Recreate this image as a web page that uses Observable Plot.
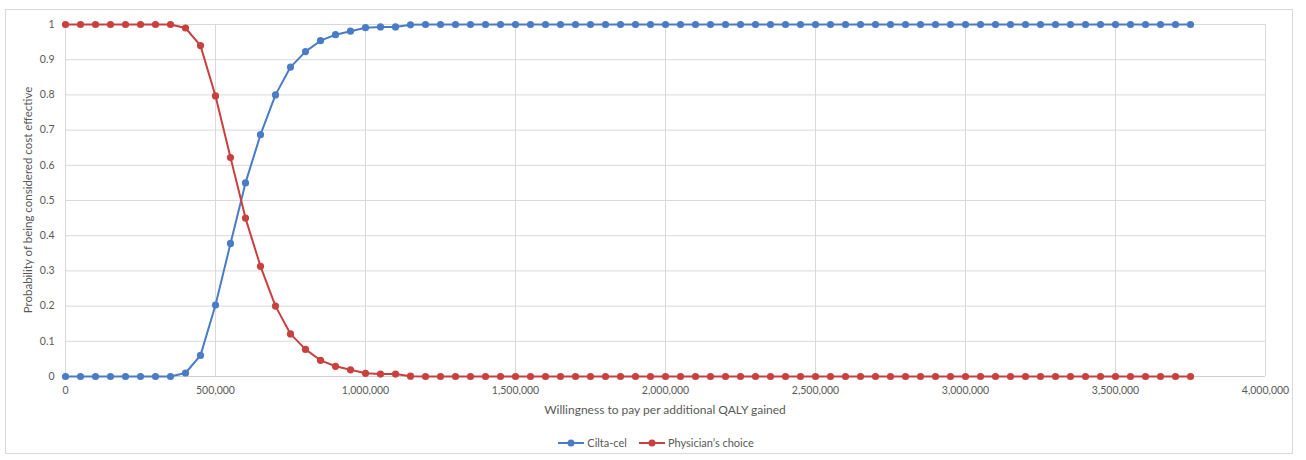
<!DOCTYPE html>
<html>
<head>
<meta charset="utf-8">
<script src="https://cdn.jsdelivr.net/npm/d3@7"></script>
<script src="https://cdn.jsdelivr.net/npm/@observablehq/plot@0.6"></script>
<style>
  html, body { margin: 0; padding: 0; background: #fff; }
  body { width: 1306px; height: 460px; position: relative; overflow: hidden; font-family: Lato, "Open Sans", sans-serif; }
  #frame { position: absolute; left: 5px; top: 9px; width: 1288px; height: 445px; border: 1px solid #d9d9d9; box-sizing: border-box; }
  #chart { position: absolute; left: 0; top: 0; }
  #xtitle { position: absolute; left: 65px; width: 1200px; top: 402px; text-align: center; font-size: 12px; color: #595959; }
  #ytitle { position: absolute; left: 27px; top: 200px; transform: translate(-50%, -50%) rotate(-90deg); white-space: nowrap; font-size: 11.5px; color: #595959; }
  #legend { position: absolute; left: 0; width: 1312px; top: 436px; text-align: center; font-size: 11px; color: #595959; }
  #legend span.item { display: inline-flex; align-items: center; margin: 0 6px; }
  #legend svg { margin-right: 3px; }
</style>
</head>
<body>
<div id="frame"></div>
<div id="chart"></div>
<div id="ytitle">Probability of being considered cost effective</div>
<div id="xtitle">Willingness to pay per additional QALY gained</div>
<div id="legend"></div>
<script>
const wtp = [
  0, 50000, 100000, 150000, 200000, 250000, 300000, 350000, 400000, 450000,
  500000, 550000, 600000, 650000, 700000, 750000, 800000, 850000, 900000, 950000,
  1000000, 1050000, 1100000, 1150000, 1200000, 1250000, 1300000, 1350000, 1400000, 1450000,
  1500000, 1550000, 1600000, 1650000, 1700000, 1750000, 1800000, 1850000, 1900000, 1950000,
  2000000, 2050000, 2100000, 2150000, 2200000, 2250000, 2300000, 2350000, 2400000, 2450000,
  2500000, 2550000, 2600000, 2650000, 2700000, 2750000, 2800000, 2850000, 2900000, 2950000,
  3000000, 3050000, 3100000, 3150000, 3200000, 3250000, 3300000, 3350000, 3400000, 3450000,
  3500000, 3550000, 3600000, 3650000, 3700000, 3750000
];
const ciltaCel = [
  0, 0, 0, 0, 0, 0, 0, 0, 0.01, 0.06,
  0.203, 0.378, 0.55, 0.687, 0.8, 0.879, 0.923, 0.954, 0.971, 0.981,
  0.991, 0.993, 0.993, 0.999, 1, 1, 1, 1, 1, 1,
  1, 1, 1, 1, 1, 1, 1, 1, 1, 1,
  1, 1, 1, 1, 1, 1, 1, 1, 1, 1,
  1, 1, 1, 1, 1, 1, 1, 1, 1, 1,
  1, 1, 1, 1, 1, 1, 1, 1, 1, 1,
  1, 1, 1, 1, 1, 1
];
const physiciansChoice = [
  1, 1, 1, 1, 1, 1, 1, 1, 0.99, 0.94,
  0.797, 0.622, 0.45, 0.313, 0.2, 0.121, 0.077, 0.046, 0.029, 0.019,
  0.009, 0.007, 0.007, 0.001, 0, 0, 0, 0, 0, 0,
  0, 0, 0, 0, 0, 0, 0, 0, 0, 0,
  0, 0, 0, 0, 0, 0, 0, 0, 0, 0,
  0, 0, 0, 0, 0, 0, 0, 0, 0, 0,
  0, 0, 0, 0, 0, 0, 0, 0, 0, 0,
  0, 0, 0, 0, 0, 0
];
const seriesNames = ["Cilta-cel", "Physician\u2019s choice"];
const seriesColors = ["#4a7cc6", "#c8413e"];
const xTicks = [0, 500000, 1000000, 1500000, 2000000, 2500000, 3000000, 3500000, 4000000];
const yTicks = [0, 0.1, 0.2, 0.3, 0.4, 0.5, 0.6, 0.7, 0.8, 0.9, 1];

const data = [];
wtp.forEach((w, i) => {
  data.push({x: w, y: ciltaCel[i], s: seriesNames[0]});
});
wtp.forEach((w, i) => {
  data.push({x: w, y: physiciansChoice[i], s: seriesNames[1]});
});

const fmt = d3.format(",");
const chart = Plot.plot({
  width: 1306,
  height: 400,
  marginLeft: 65,
  marginRight: 41,
  marginTop: 24,
  marginBottom: 24,
  style: { fontFamily: "Lato, 'Open Sans', sans-serif", fontSize: "10.5px", color: "#595959", background: "transparent" },
  x: { domain: [0, 4000000] },
  y: { domain: [0, 1] },
  color: { domain: seriesNames, range: seriesColors },
  marks: [
    Plot.gridX(xTicks, { stroke: "#d9d9d9", strokeOpacity: 1 }),
    Plot.gridY(yTicks, { stroke: "#d9d9d9", strokeOpacity: 1 }),
    Plot.ruleY([0], { stroke: "#d0d0d0" }),
    Plot.axisX(xTicks, { tickSize: 0, tickPadding: 10, tickFormat: d => fmt(d), label: null, fill: "#595959" }),
    Plot.axisY(yTicks, { tickSize: 0, tickPadding: 11, tickFormat: d => String(d), label: null, fill: "#595959" }),
    Plot.line(data, { x: "x", y: "y", z: "s", stroke: "s", strokeWidth: 2 }),
    Plot.dot(data, { x: "x", y: "y", fill: "s", r: 3.6, stroke: "none" })
  ]
});
document.getElementById("chart").appendChild(chart);

const legend = document.getElementById("legend");
seriesNames.forEach((name, i) => {
  const item = document.createElement("span");
  item.className = "item";
  item.innerHTML = `<svg width="26" height="10"><line x1="0" y1="5" x2="26" y2="5" stroke="${seriesColors[i]}" stroke-width="2"/><circle cx="13" cy="5" r="3.5" fill="${seriesColors[i]}"/></svg>`;
  const t = document.createElement("span");
  t.textContent = name;
  item.appendChild(t);
  legend.appendChild(item);
});
</script>
</body>
</html>
